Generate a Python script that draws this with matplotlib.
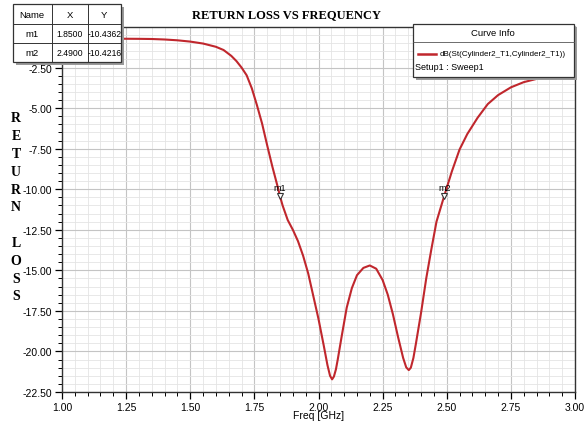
import matplotlib
matplotlib.use("Agg")
import matplotlib.pyplot as plt
from matplotlib.patches import Rectangle
from matplotlib.lines import Line2D
from matplotlib.ticker import MultipleLocator, FormatStrFormatter

# --- data ---
freq = [1.00, 1.10, 1.20, 1.30, 1.35, 1.40, 1.45, 1.50, 1.55, 1.60, 1.63, 1.66,
        1.68, 1.70, 1.72, 1.74, 1.76, 1.78, 1.80, 1.82, 1.84, 1.85, 1.86, 1.88,
        1.90, 1.92, 1.94, 1.96, 1.98, 2.00, 2.02, 2.035, 2.045, 2.053, 2.06, 2.068,
        2.075, 2.09, 2.11, 2.13, 2.15, 2.175, 2.20, 2.225, 2.25, 2.27, 2.29, 2.31,
        2.33, 2.342, 2.352, 2.36, 2.37, 2.38, 2.40, 2.42, 2.44, 2.46, 2.49, 2.52,
        2.55, 2.58, 2.62, 2.66, 2.70, 2.75, 2.80, 2.85, 2.90, 2.95, 3.00]
s11_db = [-0.72, -0.72, -0.72, -0.73, -0.74, -0.77, -0.82, -0.90, -1.02, -1.22, -1.42, -1.78,
          -2.10, -2.50, -2.98, -3.78, -4.82, -5.95, -7.30, -8.60, -9.80, -10.44, -11.00, -11.90,
          -12.50, -13.20, -14.10, -15.20, -16.60, -18.00, -19.60, -20.85, -21.50, -21.72, -21.55, -21.10,
          -20.50, -19.10, -17.30, -16.10, -15.30, -14.85, -14.70, -14.90, -15.60, -16.50, -17.70, -19.10,
          -20.40, -20.98, -21.15, -21.00, -20.40, -19.50, -17.60, -15.50, -13.70, -12.00, -10.42, -8.90,
          -7.55, -6.60, -5.60, -4.75, -4.20, -3.72, -3.40, -3.20, -3.08, -3.02, -2.97]

marker_names = ["m1", "m2"]
marker_x = [1.8500, 2.4900]
marker_y = [-10.4362, -10.4216]

curve_name = "dB(St(Cylinder2_T1,Cylinder2_T1))"
setup_name = "Setup1 : Sweep1"

W, H = 584, 427
red = "#c0272d"
sans = ["Liberation Sans", "DejaVu Sans"]
serif = ["Liberation Serif", "DejaVu Serif"]

fig = plt.figure(figsize=(W / 100, H / 100), dpi=100)
ax = fig.add_axes([62 / W, 1 - 393 / H, (575 - 62) / W, (393 - 28) / H])

ax.plot(freq, s11_db, color=red, lw=1.5, zorder=3)

ax.set_xlim(1.0, 3.0)
ax.set_ylim(-22.5, 0)
ax.xaxis.set_major_locator(MultipleLocator(0.25))
ax.xaxis.set_minor_locator(MultipleLocator(0.05))
ax.yaxis.set_minor_locator(MultipleLocator(0.5))
ax.set_yticks([-22.5, -20, -17.5, -15, -12.5, -10, -7.5, -5, -2.5])
ax.xaxis.set_major_formatter(FormatStrFormatter("%.2f"))
ax.yaxis.set_major_formatter(FormatStrFormatter("%.2f"))
ax.grid(which="major", color="#c4c4c4", lw=0.8)
ax.grid(which="minor", color="#e4e4e4", lw=0.6)
ax.set_axisbelow(True)
ax.tick_params(which="major", direction="out", length=5, width=0.9, labelsize=7.5, pad=2)
ax.tick_params(which="minor", direction="out", length=3, width=0.7)
for lab in ax.get_xticklabels() + ax.get_yticklabels():
    lab.set_family(sans)
for sp in ax.spines.values():
    sp.set_color("#333333")
    sp.set_linewidth(1.0)

ax.set_xlabel("Freq [GHz]", family=sans, fontsize=7.5)
ax.xaxis.set_label_coords((318.5 - 62) / (575 - 62), -0.05)

# markers
for n, mx, my in zip(marker_names, marker_x, marker_y):
    ax.plot([mx], [my], marker="v", ms=5, mfc="white", mec="#333333", mew=0.8, zorder=4)
    ax.annotate(n, (mx, my), xytext=(0, 3), textcoords="offset points",
                ha="center", va="bottom", fontsize=6.5, family=sans, zorder=4)

# title and vertical y label
fig.text(287 / W, 1 - 15 / H, "RETURN LOSS VS FREQUENCY", ha="center", va="center",
         fontsize=9, fontweight="bold", family=serif)
fig.text(16 / W, 1 - 208 / H, "R\nE\nT\nU\nR\nN\n\nL\nO\nS\nS", ha="center", va="center",
         fontsize=10, fontweight="bold", family=serif, linespacing=1.48)


def fbox(x0, y0, x1, y1, **kw):
    # rectangle given in pixel coords measured from top-left
    r = Rectangle((x0 / W, 1 - y1 / H), (x1 - x0) / W, (y1 - y0) / H,
                  transform=fig.transFigure, **kw)
    fig.add_artist(r)


def fline(xs, ys, **kw):
    fig.add_artist(Line2D([x / W for x in xs], [1 - y / H for y in ys],
                          transform=fig.transFigure, **kw))


def ftext(x, y, s, size=6.2, **kw):
    fig.text(x / W, 1 - y / H, s, family=sans, fontsize=size, va="center", **kw)


# marker table
fbox(16, 8, 124, 66, facecolor="#9a9a9a", edgecolor="none", zorder=9)
fbox(13, 5, 121, 63, facecolor="white", edgecolor="#333333", lw=0.9, zorder=10)
fline([13, 121], [25, 25], color="#333333", lw=0.7, zorder=11)
fline([13, 121], [44, 44], color="#333333", lw=0.7, zorder=11)
fline([52, 52], [5, 63], color="#333333", lw=0.7, zorder=11)
fline([88, 88], [5, 63], color="#333333", lw=0.7, zorder=11)
ftext(32, 15, "Name", size=6.8, ha="center", zorder=12)
ftext(70, 15, "X", size=6.8, ha="center", zorder=12)
ftext(104, 15, "Y", size=6.8, ha="center", zorder=12)
for i, (n, mx, my) in enumerate(zip(marker_names, marker_x, marker_y)):
    yy = 34.5 + 19 * i
    ftext(32, yy, n, size=6.8, ha="center", zorder=12)
    ftext(70, yy, "%.4f" % mx, ha="center", zorder=12)
    ftext(104.5, yy, "%.4f" % my, ha="center", zorder=12)

# curve info legend
fbox(416, 28, 577, 81, facecolor="#9a9a9a", edgecolor="none", zorder=9)
fbox(413, 25, 574, 78, facecolor="white", edgecolor="#333333", lw=0.9, zorder=10)
fline([413, 574], [43, 43], color="#555555", lw=0.6, zorder=11)
ftext(493, 34, "Curve Info", size=6.8, ha="center", zorder=12)
fline([418, 436], [55, 55], color=red, lw=1.8, zorder=12)
ftext(440, 55, curve_name, size=5.8, ha="left", zorder=12)
ftext(415, 68, setup_name, size=6.5, ha="left", zorder=12)

fig.savefig("out.png", dpi=100)
